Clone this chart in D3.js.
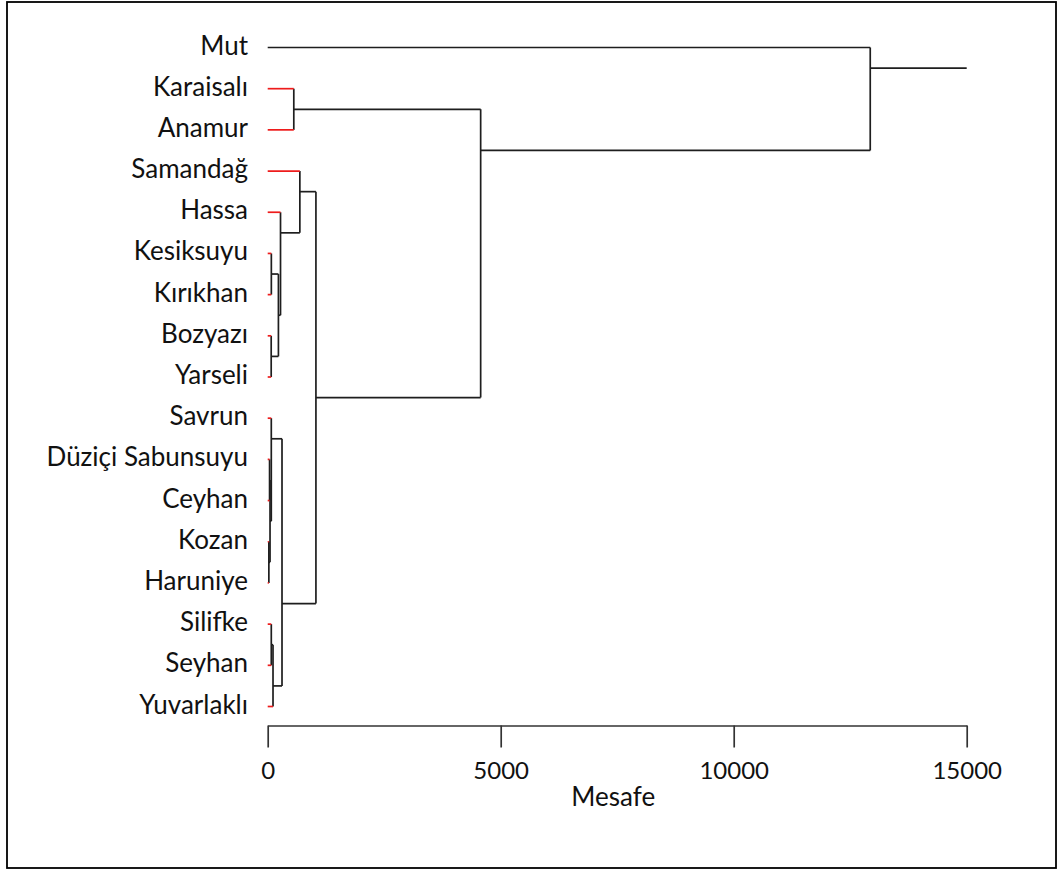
<!DOCTYPE html>
<html>
<head>
<meta charset="utf-8">
<script src="https://cdn.jsdelivr.net/npm/d3@7"></script>
<style>
  html, body { margin: 0; padding: 0; background: #fff; }
  svg { display: block; }
  text { font-family: Lato, "Open Sans", sans-serif; fill: #111; }
</style>
</head>
<body>
<svg id="chart" width="1062" height="872"></svg>
<script>
// ---- data (hclust-style) ----
const leaves = ["Mut", "Karaisalı", "Anamur", "Samandağ", "Hassa", "Kesiksuyu", "Kırıkhan",
  "Bozyazı", "Yarseli", "Savrun", "Düziçi Sabunsuyu", "Ceyhan", "Kozan", "Haruniye",
  "Silifke", "Seyhan", "Yuvarlaklı"];
// negative = leaf number (1-based), positive = earlier merge step (1-based)
const mergeLeft   = [-13, -11, 2, -8, -15, -10, -6, 5, 7, -5, 6, -2, -4, 13, 12, -1];
const mergeRight  = [-14, -12, 1, -9, -16, 3, -7, -17, 4, 9, 8, -3, 10, 11, 14, 15];
const mergeHeight = [25, 40, 50, 75, 77, 77, 78, 114, 230, 275, 307, 560, 690, 1035, 4570, 12930];
const axisTicks = [0, 5000, 10000, 15000];
const axisMax = 15000;
const axisTitle = "Mesafe";
const uncoloredLeaves = ["Mut"];

// ---- scales ----
const svg = d3.select("#chart");
const x = d3.scaleLinear().domain([0, axisMax]).range([267.7, 966.7]);
const y = d3.scaleLinear().domain([0, leaves.length - 1]).range([47.5, 706.5]);

// ---- tree helpers ----
function nodeInfo(ref) {
  if (ref < 0) {
    const i = -ref - 1;
    return { first: i, last: i, anchor: i, height: 0, leaf: true, name: leaves[i] };
  }
  const k = ref - 1;
  const L = nodeInfo(mergeLeft[k]), R = nodeInfo(mergeRight[k]);
  return { first: L.first, last: R.last, anchor: (L.last + R.first) / 2,
           height: mergeHeight[k], leaf: false, L, R };
}
const root = nodeInfo(mergeHeight.length);

const gLines = svg.append("g");
const black = "#1e1e1e", red = "#ee1c1c";
const sw = 1.7;
function drawNode(n) {
  if (n.leaf) return;
  gLines.append("line")
    .attr("x1", x(n.height)).attr("x2", x(n.height))
    .attr("y1", y(n.L.anchor)).attr("y2", y(n.R.anchor))
    .attr("stroke", black).attr("stroke-width", sw);
  [n.L, n.R].forEach(c => {
    const col = c.leaf && !uncoloredLeaves.includes(c.name) ? red : black;
    gLines.append("line")
      .attr("x1", x(c.height)).attr("x2", x(n.height))
      .attr("y1", y(c.anchor)).attr("y2", y(c.anchor))
      .attr("stroke", col).attr("stroke-width", sw);
    drawNode(c);
  });
}
drawNode(root);
gLines.append("line")
  .attr("x1", x(root.height)).attr("x2", x(axisMax))
  .attr("y1", y(root.anchor)).attr("y2", y(root.anchor))
  .attr("stroke", black).attr("stroke-width", sw);

// ---- leaf labels ----
svg.append("g").selectAll("text").data(leaves).join("text")
  .attr("x", 248)
  .attr("y", (d, i) => y(i) + 7)
  .attr("text-anchor", "end")
  .attr("font-size", 26)
  .text(d => d);

// ---- axis ----
const axis = d3.axisBottom(x).tickValues(axisTicks).tickFormat(d3.format("d"))
  .tickSize(22).tickSizeOuter(0).tickPadding(14);
const gAxis = svg.append("g").attr("transform", "translate(0,725.5)").call(axis);
gAxis.select(".domain").attr("stroke", "#333").attr("stroke-width", sw);
gAxis.selectAll(".tick line").attr("stroke", "#333").attr("stroke-width", sw);
gAxis.selectAll(".tick text").attr("font-size", 24).attr("font-family", "Lato, sans-serif").attr("fill", "#111");

svg.append("text")
  .attr("x", (x.range()[0] + x.range()[1]) / 2 - 4)
  .attr("y", 806)
  .attr("text-anchor", "middle")
  .attr("font-size", 26)
  .text(axisTitle);

// ---- frame ----
svg.append("rect")
  .attr("x", 7).attr("y", 2).attr("width", 1049).attr("height", 866)
  .attr("fill", "none").attr("stroke", "#000").attr("stroke-width", 1.8);
</script>
</body>
</html>
